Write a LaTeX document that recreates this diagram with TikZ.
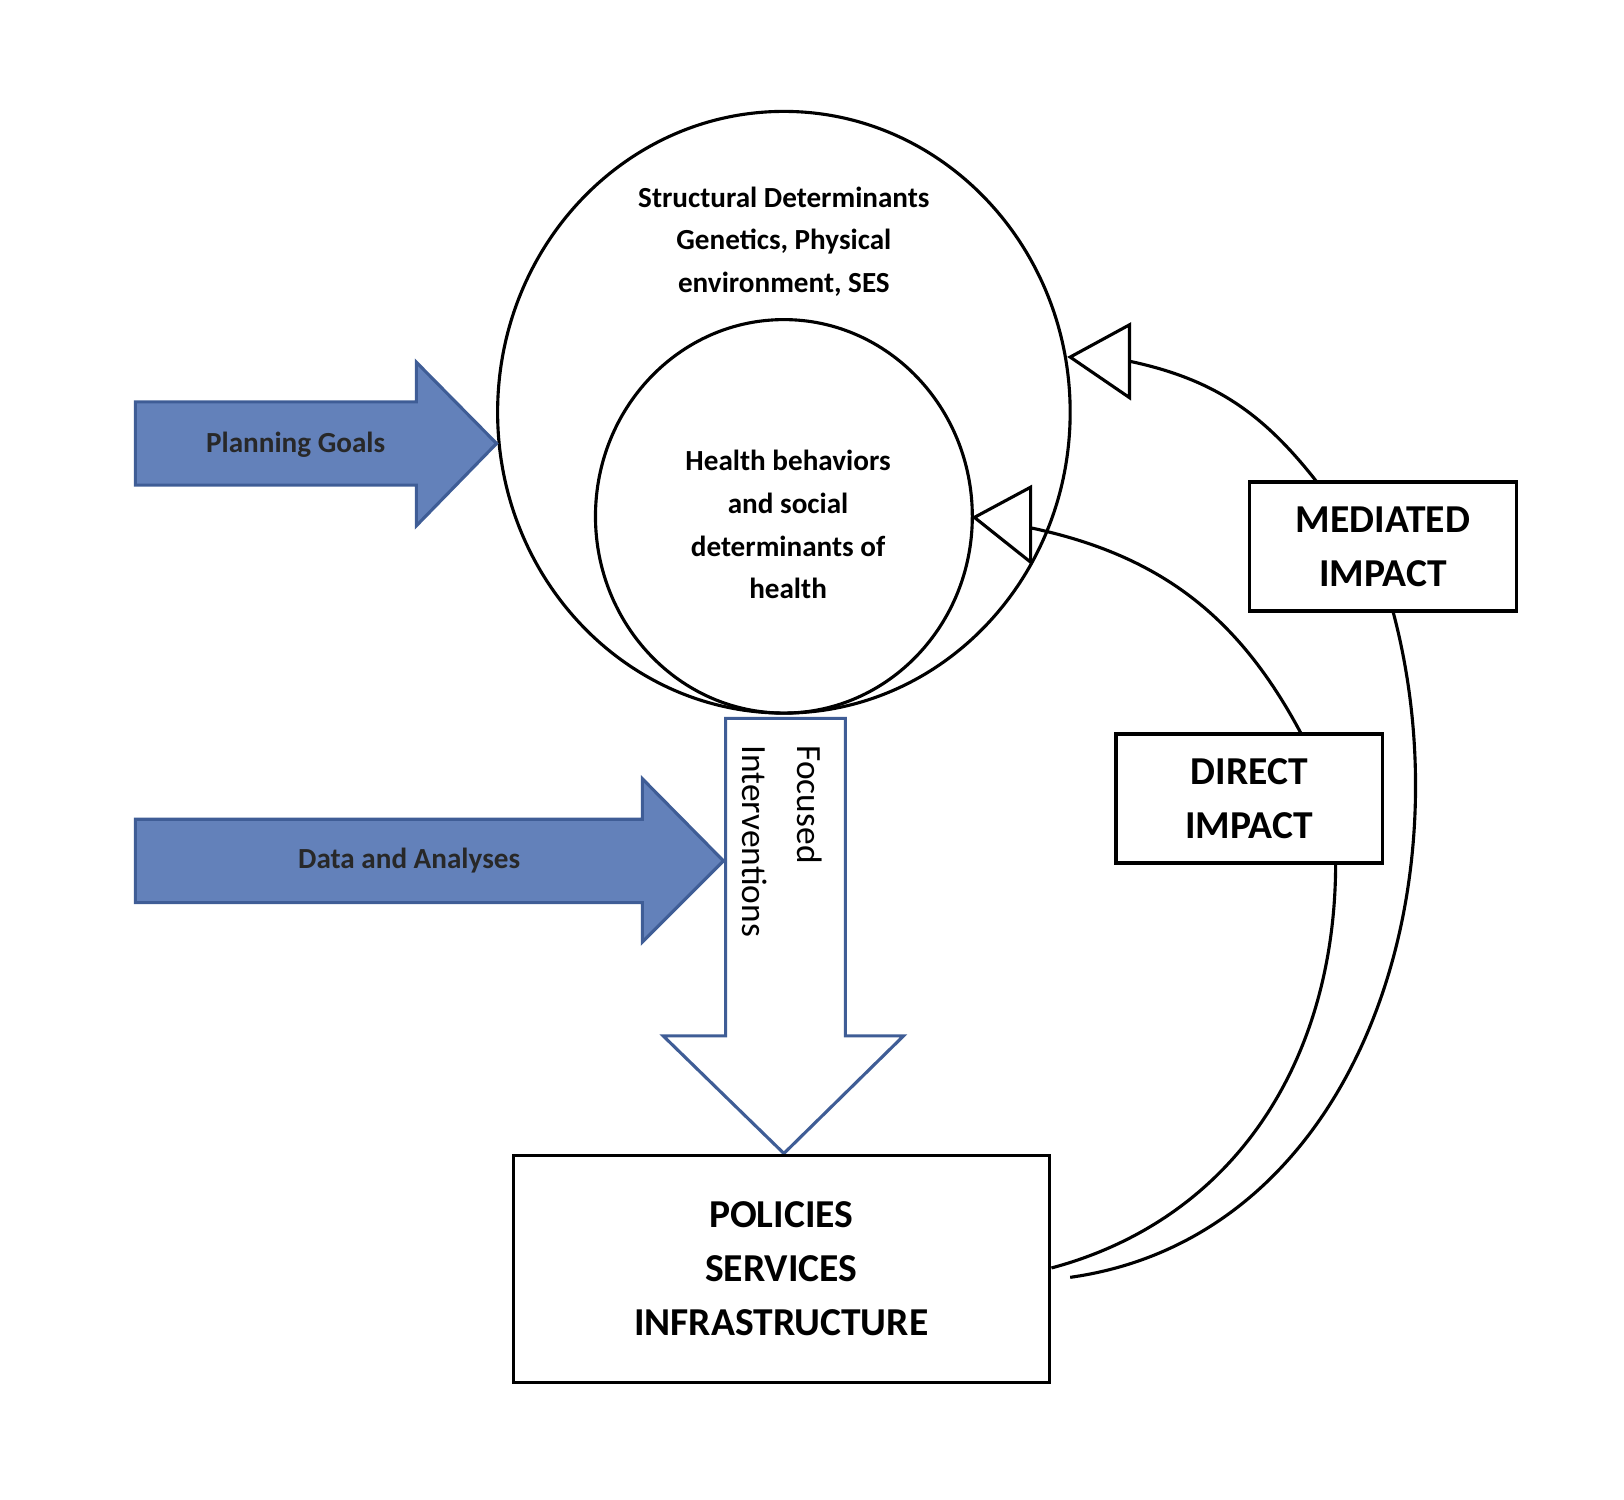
\documentclass[tikz,border=0pt]{standalone}
\usepackage{fontspec}
\setmainfont{Carlito}
\usetikzlibrary{shapes.geometric}
\definecolor{bfill}{RGB}{99,129,186}
\definecolor{bline}{RGB}{63,93,150}
\definecolor{dtext}{RGB}{40,40,40}
\begin{document}
\begin{tikzpicture}[x=0.5pt,y=-0.5pt,line width=1.5pt,
  blk/.style={draw=black,line width=1.6pt,rectangle,inner sep=0pt},
  bluearrow/.style={fill=bfill,draw=bline,line width=1.5pt},
  tri/.style={draw=black,fill=white,line width=1.5pt,line join=miter},
  lbl/.style={font=\fontsize{14}{20.5}\selectfont\bfseries,align=center},
  big/.style={font=\fontsize{19}{26}\selectfont\bfseries,align=center}]
\useasboundingbox (0,0) rectangle (1560,1440);
% circles
\node[draw,ellipse,minimum width=550*0.5pt,minimum height=578*0.5pt,inner sep=0pt] (outer) at (753,396) {};
\node[draw,ellipse,minimum width=362*0.5pt,minimum height=378*0.5pt,inner sep=0pt] (inner) at (753,496) {};
\node[lbl] (sd) at (753,232) {Structural Determinants\\Genetics, Physical\\environment, SES};
\node[lbl] (hb) at (757,504) {Health behaviors\\and social\\determinants of\\health};
% blue arrows
\draw[bluearrow] (130,386) -- (400,386) -- (400,348) -- (477,426) -- (400,505) -- (400,466) -- (130,466) -- cycle;
\node[font=\fontsize{14}{16}\selectfont\bfseries,text=dtext] (pg) at (284,427) {Planning Goals};
\draw[bluearrow] (130,787) -- (617,787) -- (617,748) -- (695,827) -- (617,905) -- (617,867) -- (130,867) -- cycle;
\node[font=\fontsize{14}{16}\selectfont\bfseries,text=dtext] (da) at (393,827) {Data and Analyses};
% down arrow
\draw[draw=bline,fill=white,line width=1.5pt] (697,690) -- (812,690) -- (812,995) -- (868,995) -- (753,1108) -- (637,995) -- (697,995) -- cycle;
\node[rotate=-90,anchor=west,font=\fontsize{17}{20}\selectfont] (fo) at (778,708) {Focused};
\node[rotate=-90,anchor=west,font=\fontsize{17}{20}\selectfont] (iv) at (725,708) {Interventions};
% boxes
\node[blk,big,minimum width=515*0.5pt,minimum height=218*0.5pt] (pol) at (750.5,1219) {POLICIES\\SERVICES\\INFRASTRUCTURE};
\node[blk,big,minimum width=256*0.5pt,minimum height=124*0.5pt] (dir) at (1200,767) {DIRECT\\IMPACT};
\node[blk,big,minimum width=257*0.5pt,minimum height=124*0.5pt] (med) at (1328.5,525) {MEDIATED\\IMPACT};
% connectors
\coordinate (dt) at (1250,705);
\coordinate (db) at (1283,829);
\coordinate (mt) at (1265,463);
\coordinate (mb) at (1338,587);
\coordinate (da1) at (990,507);
\coordinate (ma1) at (1085,347);
\coordinate (pd) at (1010,1218);
\coordinate (pm) at (1028,1227);
\draw (dt) to[out=118,in=-12] (da1);
\draw (db) to[out=-90,in=15] (pd);
\draw (mt) to[out=128,in=-12] (ma1);
\draw (mb) to[out=-75,in=8] (pm);
\draw[tri] (936,497) -- (990,468) -- (990,540) -- cycle;
\draw[tri] (1028,343) -- (1085,312) -- (1085,382) -- cycle;
\end{tikzpicture}
\end{document}
